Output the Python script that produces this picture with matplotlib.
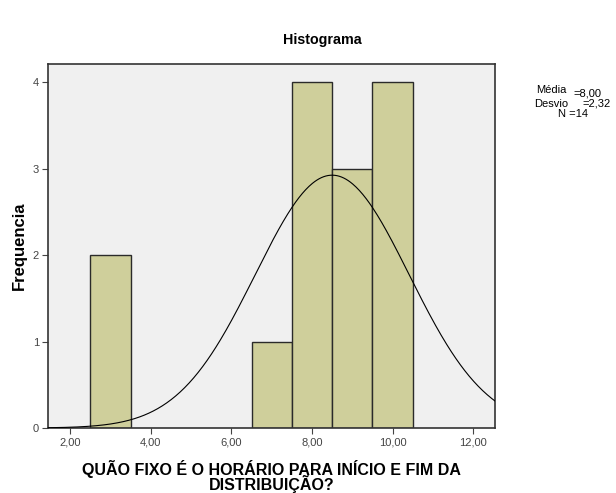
import numpy as np
import matplotlib
matplotlib.use("Agg")
import matplotlib.pyplot as plt

# Data
bin_left = [2.5, 6.5, 7.5, 8.5, 9.5]
counts = [2, 1, 4, 3, 4]
bin_width = 1.0
x_ticks = [2, 4, 6, 8, 10, 12]
x_tick_labels = ["2,00", "4,00", "6,00", "8,00", "10,00", "12,00"]
y_ticks = [0, 1, 2, 3, 4]
curve_mean = 8.5
curve_sd = 1.91
n_total = 14
stats_labels = ["Média", "Desvio", "N"]
stats_values = ["=8,00", "=2,32", "=14"]

plt.rcParams['font.family'] = ['Liberation Sans', 'DejaVu Sans']

fig = plt.figure(figsize=(6.16, 4.93), dpi=100)
fig.patch.set_facecolor("white")
ax = fig.add_axes([48/616, 1-428/493, (495-48)/616, (428-64)/493])
ax.set_facecolor("#F0F0F0")

ax.bar(bin_left, counts, width=bin_width, align="edge", color="#CFCF9B",
       edgecolor="#2a2a2a", linewidth=1.0, zorder=2)

xs = np.linspace(1.45, 12.54, 400)
ys = n_total * bin_width / (curve_sd * np.sqrt(2*np.pi)) * np.exp(-0.5*((xs-curve_mean)/curve_sd)**2)
ax.plot(xs, ys, color="black", linewidth=0.8, zorder=3)

ax.set_xlim(1.45, 12.54)
ax.set_ylim(0, 4.21)
ax.set_xticks(x_ticks)
ax.set_xticklabels(x_tick_labels)
ax.set_yticks(y_ticks)
ax.tick_params(axis="both", labelsize=8, colors="#444444", length=4, width=0.8,
               direction="out", pad=2.5)
for s in ax.spines.values():
    s.set_color("#333333")
    s.set_linewidth(1.2)

ax.set_ylabel("Frequencia", fontsize=12, fontweight="bold", labelpad=4)
ax.set_xlabel("QUÃO FIXO É O HORÁRIO PARA INÍCIO E FIM DA\nDISTRIBUIÇÃO?",
              fontsize=11.5, fontweight="bold", labelpad=9, linespacing=0.82)

fig.text(322/616, 1-40/493, "Histograma", ha="center", va="center",
         fontsize=10.3, fontweight="bold")

fs = 8
fig.text(536/616, 1-90/493, stats_labels[0], fontsize=fs, va="center", ha="left")
fig.text(573/616, 1-94/493, stats_values[0], fontsize=fs, va="center", ha="left")
fig.text(534/616, 1-104/493, stats_labels[1], fontsize=fs, va="center", ha="left")
fig.text(582/616, 1-104/493, stats_values[1], fontsize=fs, va="center", ha="left")
fig.text(558/616, 1-114/493, stats_labels[2] + " " + stats_values[2], fontsize=fs,
         va="center", ha="left")

fig.savefig("out.png", dpi=100)
